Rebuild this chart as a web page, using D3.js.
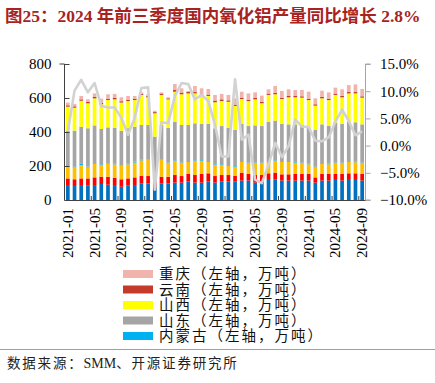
<!DOCTYPE html>
<html><head><meta charset="utf-8">
<script src="https://cdn.jsdelivr.net/npm/d3@7/dist/d3.min.js"></script>
<style>
body{margin:0;background:#fff;}
text{font-family:"Liberation Serif","Noto Sans CJK SC",serif;}
</style></head>
<body><svg id="c" width="435" height="383"></svg>
<script>
const months = ["2021-01","2021-02","2021-03","2021-04","2021-05","2021-06","2021-07","2021-08","2021-09","2021-10","2021-11","2021-12",
"2022-01","2022-02","2022-03","2022-04","2022-05","2022-06","2022-07","2022-08","2022-09","2022-10","2022-11","2022-12",
"2023-01","2023-02","2023-03","2023-04","2023-05","2023-06","2023-07","2023-08","2023-09","2023-10","2023-11","2023-12",
"2024-01","2024-02","2024-03","2024-04","2024-05","2024-06","2024-07","2024-08","2024-09"];
const xTickLabels = ["2021-01","2021-05","2021-09","2022-01","2022-05","2022-09","2023-01","2023-05","2023-09","2024-01","2024-05","2024-09"];
const leftTicks = [0,200,400,600,800];
const rightTicks = [-10,-5,0,5,10,15];

// bottom three series (legend entries not shown in the reference)
const seriesBlue   = [88,82,88,84,88,94,90,88,78,84,88,98,98,78,98,98,102,102,108,102,102,108,102,108,108,108,114,114,102,94,118,122,114,114,114,114,114,102,114,114,118,114,118,118,114];
const seriesRed    = [39,40,39,43,45,43,47,43,44,43,45,45,43,30,39,39,45,39,45,45,51,49,39,39,39,35,47,39,45,53,39,39,37,37,39,39,39,31,39,39,35,39,39,39,39];
const seriesOrange = [69,70,79,65,79,69,75,79,80,83,87,90,94,0,98,79,82,75,72,82,78,68,65,59,53,53,64,63,69,69,68,68,74,74,67,63,57,59,59,57,63,63,68,65,63];
const neimenggu    = [4,5,7,4,4,4,3,3,3,3,5,4,3,2,3,4,4,4,4,4,4,4,4,4,4,4,4,4,4,4,4,4,4,4,4,4,4,4,4,4,4,4,4,4,4];
const shandong     = [206,211,218,226,223,208,212,212,203,209,206,204,203,263,203,205,228,221,212,218,212,218,212,225,221,212,218,215,219,215,230,234,218,216,221,221,211,216,229,223,235,227,232,231,225];
const shanxi       = [143,135,153,147,159,145,161,167,165,160,157,177,163,137,177,167,176,181,186,176,165,165,153,147,153,141,147,147,153,134,159,155,147,159,159,161,163,143,153,151,163,157,166,170,157];
const yunnan       = [8,8,8,8,8,8,8,8,8,8,8,7,8,7,8,6,10,10,8,8,8,8,10,10,8,8,8,8,8,8,8,8,8,8,8,8,8,8,8,8,8,8,8,8,8];
const chongqing    = [16,14,20,15,21,25,26,24,23,22,16,8,10,8,7,6,35,25,6,36,37,33,33,32,32,37,35,37,33,37,25,41,39,39,35,37,41,35,37,37,35,39,41,45,43];
const yoy          = [2.6,10.1,12.1,9.8,11.5,7.3,7.0,7.0,5.1,2.0,5.1,10.6,10.7,-8.1,4.3,4.1,9.1,11.5,11.3,8.5,9.3,8.2,3.8,-2.0,-2.0,12.2,1.1,2.0,-6.3,-6.9,-3.5,0.5,-2.1,-0.1,4.8,3.5,3.4,0.9,0.8,1.5,4.4,6.6,4.5,1.9,2.6];

const seriesDefs = [
  {key:"a", vals:seriesBlue,   color:"#0070C0"},
  {key:"b", vals:seriesRed,    color:"#FF0000"},
  {key:"c", vals:seriesOrange, color:"#FFC000"},
  {key:"内蒙古", vals:neimenggu, color:"#00B0F0"},
  {key:"山东", vals:shandong,   color:"#A5A5A5"},
  {key:"山西", vals:shanxi,     color:"#FFFF00"},
  {key:"云南", vals:yunnan,     color:"#C43B2C"},
  {key:"重庆", vals:chongqing,  color:"#F0B4AC"}
];
const legendItems = ["重庆","云南","山西","山东","内蒙古"];

const svg = d3.select("#c");
const L = 64.5, R = 365.5, T = 64, B = 200;

const table = months.map((m,i)=>{const o={month:m}; seriesDefs.forEach(s=>o[s.key]=s.vals[i]); return o;});
const stack = d3.stack().keys(seriesDefs.map(s=>s.key))(table);

const x = d3.scaleBand().domain(months).range([L,R]).paddingInner(0.45).paddingOuter(0.225);
const y = d3.scaleLinear().domain([0,800]).range([B,T]);
const y2 = d3.scaleLinear().domain([-10,15]).range([B,T]);

// bars
svg.append("g").selectAll("g").data(stack).join("g")
  .attr("fill",(d,i)=>seriesDefs[i].color)
  .selectAll("rect").data(d=>d).join("rect")
  .attr("x",d=>x(d.data.month)).attr("width",x.bandwidth())
  .attr("y",d=>y(d[1])).attr("height",d=>Math.max(0,y(d[0])-y(d[1])));

// line
svg.append("path").datum(yoy)
  .attr("fill","none").attr("stroke","#D2D2D2").attr("stroke-width",2.6).attr("stroke-linejoin","round")
  .attr("d",d3.line().x((d,i)=>x(months[i])+x.bandwidth()/2).y(d=>y2(d)));

// left axis
const gl = svg.append("g").attr("transform",`translate(${L},0)`)
  .call(d3.axisLeft(y).tickValues(leftTicks).tickSize(-5).tickPadding(13).tickFormat(d3.format("d")));
gl.select(".domain").attr("stroke","#404040").attr("d",`M-5,${T}H0V${B}`);
gl.selectAll(".tick line").attr("stroke","#404040");
gl.selectAll("text").attr("font-size",15).attr("fill","#000").attr("font-family","Liberation Serif");

// right axis
const gr = svg.append("g").attr("transform",`translate(${R},0)`)
  .call(d3.axisRight(y2).tickValues(rightTicks).tickSize(5).tickPadding(10).tickFormat(d=>d3.format(".1f")(d)+"%"));
gr.select(".domain").attr("stroke","#A6A6A6").attr("d",`M5,${T}H0V${B}H5`);
gr.selectAll(".tick line").attr("stroke","#A6A6A6");
gr.selectAll("text").attr("font-size",15).attr("fill","#000").attr("font-family","Liberation Serif").attr("text-anchor","start").attr("x",14.5);

// bottom axis
svg.append("line").attr("x1",L).attr("x2",R).attr("y1",B+0.5).attr("y2",B+0.5).attr("stroke","#404040").attr("stroke-width",1.2);
const step = x.step();
const tickIdx = d3.range(4, months.length, 4);
svg.append("g").selectAll("line").data(tickIdx).join("line")
  .attr("x1",i=>x(months[i]) - step*x.paddingInner()/2).attr("x2",i=>x(months[i]) - step*x.paddingInner()/2)
  .attr("y1",B).attr("y2",B-4).attr("stroke","#404040");
svg.append("g").selectAll("text").data(xTickLabels).join("text")
  .attr("transform",d=>`translate(${x(d)+x.bandwidth()/2},${B+8}) rotate(-90)`)
  .attr("text-anchor","end").attr("dy","0.33em").attr("font-size",15).attr("font-family","Liberation Serif")
  .text(d=>d);

// legend
const lg = svg.append("g");
legendItems.forEach((k,i)=>{
  const s = seriesDefs.find(d=>d.key===k);
  const cy = 274 + i*15.5;
  lg.append("rect").attr("x",123).attr("y",cy-4).attr("width",30).attr("height",8).attr("fill",s.color);
  lg.append("text").attr("x",159).attr("y",cy).attr("dy","0.36em").attr("font-size",14.5)
    .attr("letter-spacing",2)
    .attr("font-family","Noto Sans CJK SC").attr("fill","#111").text(k+"（左轴，万吨）");
});

// title
svg.append("text").attr("x",5).attr("y",22).attr("font-size",17.5).attr("font-weight","bold")
  .attr("fill","#A8231F").text("图25：2024 年前三季度国内氧化铝产量同比增长 2.8%");

// bottom rule and source
svg.append("line").attr("x1",0).attr("x2",435).attr("y1",349.5).attr("y2",349.5).attr("stroke","#A0A0A0");
const src = svg.append("text").attr("x",7).attr("y",368).attr("font-size",13.5).attr("fill","#222")
  .attr("font-family","Noto Sans CJK SC");
src.append("tspan").attr("letter-spacing",1.8).text("数据来源：");
src.append("tspan").attr("font-family","Liberation Serif").attr("font-size",14).text("SMM");
src.append("tspan").attr("letter-spacing",1.8).text("、开源证券研究所");
</script></body></html>
